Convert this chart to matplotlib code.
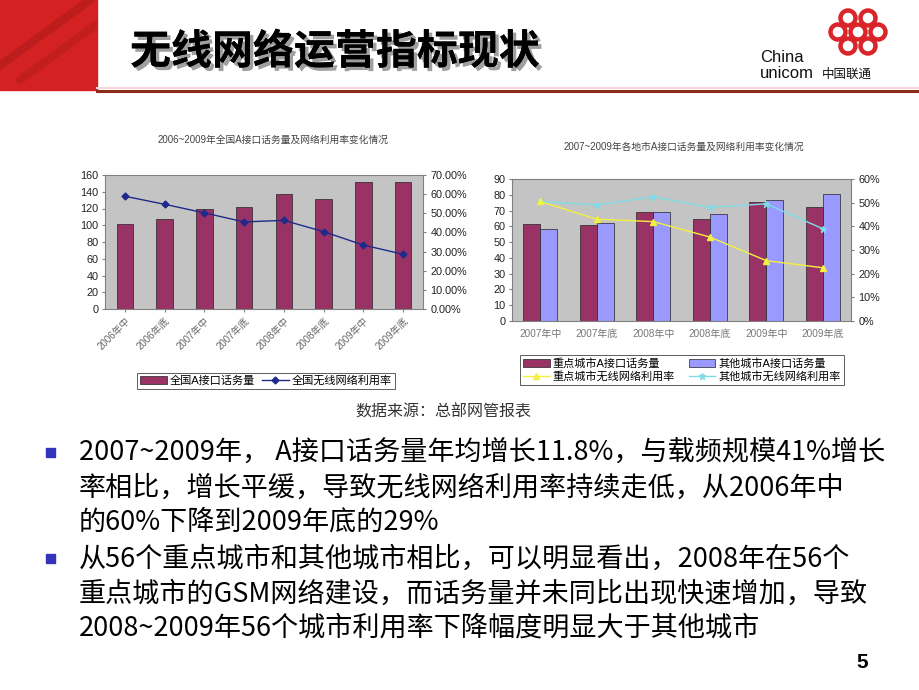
import numpy as np
import matplotlib
matplotlib.use('Agg')
import matplotlib.pyplot as plt
from matplotlib.patches import Rectangle, Circle
from matplotlib.lines import Line2D
import matplotlib.patheffects as pe

plt.rcParams['font.family'] = ['Liberation Sans', 'Noto Sans CJK SC', 'DejaVu Sans']

W, H = 920, 690

# chart 1: national
periods_nat = ['2006年中', '2006年底', '2007年中', '2007年底',
               '2008年中', '2008年底', '2009年中', '2009年底']
traffic_nat = [102, 108, 120, 122, 137, 131, 152, 152]
util_nat = [58.9, 54.7, 50.2, 45.5, 46.3, 40.4, 33.4, 28.6]

# chart 2: key cities vs other cities
periods_city = ['2007年中', '2007年底', '2008年中', '2008年底', '2009年中', '2009年底']
traffic_key = [61.5, 61.0, 69.0, 64.5, 75.5, 72.0]
traffic_other = [58.0, 62.0, 69.0, 68.0, 76.5, 80.5]
util_key = [50.5, 43.0, 42.0, 35.5, 25.5, 22.5]
util_other = [50.5, 49.0, 52.5, 48.0, 49.5, 39.0]

bullets = [
    ["2007~2009年， A接口话务量年均增长11.8%，与载频规模41%增长",
     "率相比，增长平缓，导致无线网络利用率持续走低，从2006年中",
     "的60%下降到2009年底的29%"],
    ["从56个重点城市和其他城市相比，可以明显看出，2008年在56个",
     "重点城市的GSM网络建设，而话务量并未同比出现快速增加，导致",
     "2008~2009年56个城市利用率下降幅度明显大于其他城市"],
]

BAR1 = '#993366'
BAR2 = '#9999ff'
PLOT_BG = '#c4c4c4'
GRAYTXT = '#444444'


def px_axes(fig, x, y, w, h, **kw):
    return fig.add_axes([x / W, 1 - (y + h) / H, w / W, h / H], **kw)


def style_axes(ax):
    ax.set_facecolor(PLOT_BG)
    for s in ax.spines.values():
        s.set_color('#808080')
        s.set_linewidth(0.8)
    ax.tick_params(labelsize=7.8, length=2.5, color='#808080', pad=2, labelcolor='#222222')


fig = plt.figure(figsize=(9.2, 6.9), dpi=100)

# background / decoration layer in pixel coordinates
bg = fig.add_axes([0, 0, 1, 1])
bg.set_xlim(0, W)
bg.set_ylim(H, 0)
bg.axis('off')

red_block = Rectangle((0, 0), 97, 90, color='#d42222', zorder=1)
bg.add_patch(red_block)
for x0, a in [(-20, 0.25), (20, 0.18)]:
    streak, = bg.plot([x0, x0 + 110], [80, 0], color='#7a1010', lw=6, alpha=a, zorder=2,
                      solid_capstyle='round')
    streak.set_clip_path(red_block)
bg.plot([97, W], [91, 91], color='#8b2b1c', lw=2.2, zorder=2)
bg.plot([97, W], [88, 88], color='#f6d6dc', lw=1.5, zorder=2)

bg.text(130, 52, '无线网络运营指标现状', fontsize=29.5, fontweight='bold',
        family=['Noto Sans CJK SC'], va='center', ha='left', color='black',
        path_effects=[pe.withSimplePatchShadow(offset=(2.5, -2.5), shadow_rgbFace='#777777', alpha=0.7),
                      pe.Normal()])

# logo
for cx, cy in [(848, 18), (868, 18), (838, 32), (878, 32), (848, 46), (868, 46), (858, 32)]:
    bg.add_patch(Circle((cx, cy), 7.5, fill=False, ec='#d9252a', lw=3.2, zorder=3))
bg.text(760, 58, 'China', fontsize=12, family=['Liberation Sans'], va='center', color='#111111')
bg.text(760, 74, 'unicom', fontsize=12, family=['Liberation Sans'], va='center', color='#111111')
bg.text(822, 74, '中国联通', fontsize=9, family=['Noto Sans CJK SC'], va='center', color='#111111')

# chart titles and source
bg.text(273, 140, '2006~2009年全国A接口话务量及网络利用率变化情况', fontsize=7,
        ha='center', va='center', color=GRAYTXT)
bg.text(684, 147, '2007~2009年各地市A接口话务量及网络利用率变化情况', fontsize=7,
        ha='center', va='center', color=GRAYTXT)
bg.text(443, 412, '数据来源：总部网管报表', fontsize=11.5, family=['Noto Sans CJK SC'],
        ha='center', va='center', color='#333333')

# bullet text
line_y = [[453, 488, 522], [559, 594, 628]]
for lines, ys in zip(bullets, line_y):
    bg.add_patch(Rectangle((46, ys[0] - 5), 9, 9, color='#3333bb', zorder=3))
    for txt, y in zip(lines, ys):
        bg.text(79, y, txt, fontsize=19.5, family=['Noto Sans CJK SC'],
                ha='left', va='center', color='black')
bg.text(862, 663, '5', fontsize=15, fontweight='bold', ha='center', va='center', color='black')

# ---- chart 1 ----
ax1 = px_axes(fig, 105, 175, 318, 134)
style_axes(ax1)
x1 = np.arange(len(periods_nat))
ax1.bar(x1, traffic_nat, width=0.42, color=BAR1, edgecolor='#222222', lw=0.5, zorder=2)
ax1.set_xlim(-0.5, len(periods_nat) - 0.5)
ax1.set_ylim(0, 160)
ax1.set_yticks(range(0, 161, 20))
ax1.set_xticks(x1)
ax1.set_xticklabels(periods_nat, rotation=45, ha='right', rotation_mode='anchor',
                    fontsize=7, color='#666666')
ax1r = ax1.twinx()
ax1r.plot(x1, util_nat, color='#1f2a8a', lw=1, marker='D', ms=3.5, zorder=3)
ax1r.set_ylim(0, 70)
ax1r.set_yticks(range(0, 71, 10))
ax1r.set_yticklabels([f'{v:.2f}%' for v in range(0, 71, 10)])
ax1r.tick_params(labelsize=7.8, length=2.5, color='#808080', pad=3, labelcolor='#222222')
for s in ax1r.spines.values():
    s.set_visible(False)

handles1 = [Rectangle((0, 0), 1, 1, fc=BAR1, ec='#222222', lw=0.5),
            Line2D([], [], color='#1f2a8a', lw=1, marker='D', ms=3.5)]
leg1 = fig.legend(handles1, ['全国A接口话务量', '全国无线网络利用率'], ncol=2,
                  loc='center', bbox_to_anchor=(266 / W, 1 - 381 / H), fontsize=8,
                  frameon=True, fancybox=False, edgecolor='#333333', handlelength=2.4,
                  handletextpad=0.3, columnspacing=0.6, borderpad=0.25)
leg1.get_frame().set_linewidth(0.7)

# ---- chart 2 ----
ax2 = px_axes(fig, 512, 179, 339, 142)
style_axes(ax2)
x2 = np.arange(len(periods_city))
bw = 0.3
ax2.bar(x2 - bw / 2, traffic_key, width=bw, color=BAR1, edgecolor='#222222', lw=0.5, zorder=2)
ax2.bar(x2 + bw / 2, traffic_other, width=bw, color=BAR2, edgecolor='#222222', lw=0.5, zorder=2)
ax2.set_xlim(-0.5, len(periods_city) - 0.5)
ax2.set_ylim(0, 90)
ax2.set_yticks(range(0, 91, 10))
ax2.set_xticks(x2)
ax2.set_xticklabels(periods_city, fontsize=7.2, color='#777777')
ax2.tick_params(axis='x', length=0, pad=6)
ax2r = ax2.twinx()
ax2r.plot(x2, util_other, color='#7fdce6', lw=1, marker='*', ms=5, zorder=3)
ax2r.plot(x2, util_key, color='#f2f040', lw=1, marker='^', ms=4, zorder=4)
ax2r.set_ylim(0, 60)
ax2r.set_yticks(range(0, 61, 10))
ax2r.set_yticklabels([f'{v}%' for v in range(0, 61, 10)])
ax2r.tick_params(labelsize=7.8, length=2.5, color='#808080', pad=3, labelcolor='#222222')
for s in ax2r.spines.values():
    s.set_visible(False)

handles2 = [Rectangle((0, 0), 1, 1, fc=BAR1, ec='#222222', lw=0.5),
            Line2D([], [], color='#f2f040', lw=1, marker='^', ms=4),
            Rectangle((0, 0), 1, 1, fc=BAR2, ec='#222222', lw=0.5),
            Line2D([], [], color='#7fdce6', lw=1, marker='*', ms=5)]
leg2 = fig.legend(handles2, ['重点城市A接口话务量', '重点城市无线网络利用率',
                             '其他城市A接口话务量', '其他城市无线网络利用率'], ncol=2,
                  loc='center', bbox_to_anchor=(682 / W, 1 - 370 / H), fontsize=8,
                  frameon=True, fancybox=False, edgecolor='#333333', handlelength=2.4,
                  handletextpad=0.3, columnspacing=1.2, borderpad=0.3, labelspacing=0.2)
leg2.get_frame().set_linewidth(0.7)

fig.savefig('out.png', dpi=100)
